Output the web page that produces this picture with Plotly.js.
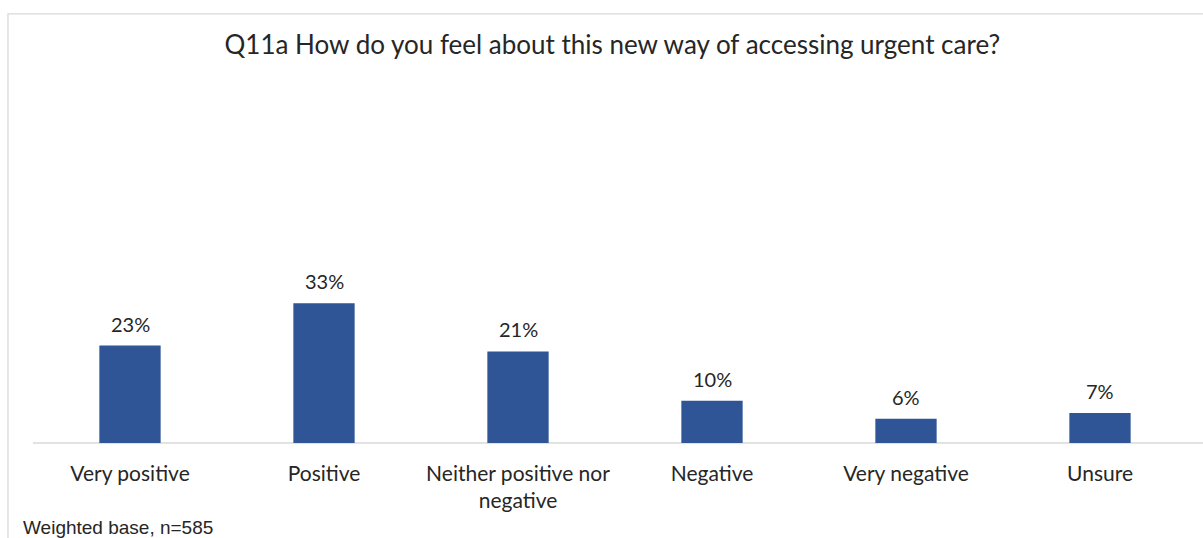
<!DOCTYPE html>
<html>
<head>
<meta charset="utf-8">
<script src="https://cdn.plot.ly/plotly-3.0.1.min.js"></script>
<style>
  html, body { margin: 0; padding: 0; background: #ffffff; }
  #chart { width: 1203px; height: 538px; }
</style>
</head>
<body>
<div id="chart"></div>
<script>
// ---- data ----
const categories = [
  "Very positive",
  "Positive",
  "Neither positive nor<br>negative",
  "Negative",
  "Very negative",
  "Unsure"
];
const values = [23, 33, 21.6, 10, 5.7, 7.1];
const valueLabels = ["23%", "33%", "21%", "10%", "6%", "7%"];
const titleText = "Q11a How do you feel about this new way of accessing urgent care?";
const footnote = "Weighted base, n=585";

// ---- styles ----
const barColor = "#2F5597";
const textColor = "#262626";
const labelFont = "Lato, 'Open Sans', sans-serif";

const trace = {
  type: "bar",
  x: categories,
  y: values,
  marker: { color: barColor, line: { width: 0 } },
  hoverinfo: "skip"
};

const annotations = categories.map((c, i) => ({
  x: c, y: values[i], xref: "x", yref: "y",
  text: valueLabels[i],
  showarrow: false,
  yanchor: "middle",
  yshift: 22,
  font: { family: labelFont, size: 20, color: textColor }
}));
annotations.push({
  xref: "paper", yref: "paper",
  x: -0.0105, y: -0.25,
  xanchor: "left", yanchor: "middle",
  text: footnote, showarrow: false,
  font: { family: "'Liberation Sans', Arial, sans-serif", size: 19, color: textColor }
});

const layout = {
  width: 1203, height: 538,
  margin: { l: 33, r: 6, t: 104, b: 95, pad: 0 },
  paper_bgcolor: "#ffffff",
  plot_bgcolor: "#ffffff",
  showlegend: false,
  bargap: 0.684,
  title: {
    text: titleText,
    x: 0.509, xanchor: "center",
    y: 0.916, yanchor: "middle",
    xref: "container", yref: "container",
    font: { family: labelFont, size: 26, color: textColor }
  },
  xaxis: {
    type: "category",
    range: [-0.5, 5.5],
    showgrid: false, zeroline: false, showline: false,
    ticks: "",
    ticklabelstandoff: 16,
    tickfont: { family: labelFont, size: 21, color: textColor },
    fixedrange: true
  },
  yaxis: {
    range: [0, 80],
    showgrid: false, zeroline: false, showline: false,
    showticklabels: false, ticks: "",
    fixedrange: true
  },
  shapes: [
    { type: "line", xref: "paper", yref: "paper", x0: 0, x1: 1.01, y0: 0, y1: 0,
      line: { color: "#d9d9d9", width: 1.3 }, layer: "below" },
    { type: "rect", xref: "paper", yref: "paper",
      x0: -0.0215, x1: 1.02, y0: -0.35, y1: 1.266,
      line: { color: "#d9d9d9", width: 1.3 }, fillcolor: "rgba(0,0,0,0)", layer: "below" }
  ],
  annotations: annotations
};

Plotly.newPlot("chart", [trace], layout, { displayModeBar: false, staticPlot: true });
</script>
</body>
</html>
